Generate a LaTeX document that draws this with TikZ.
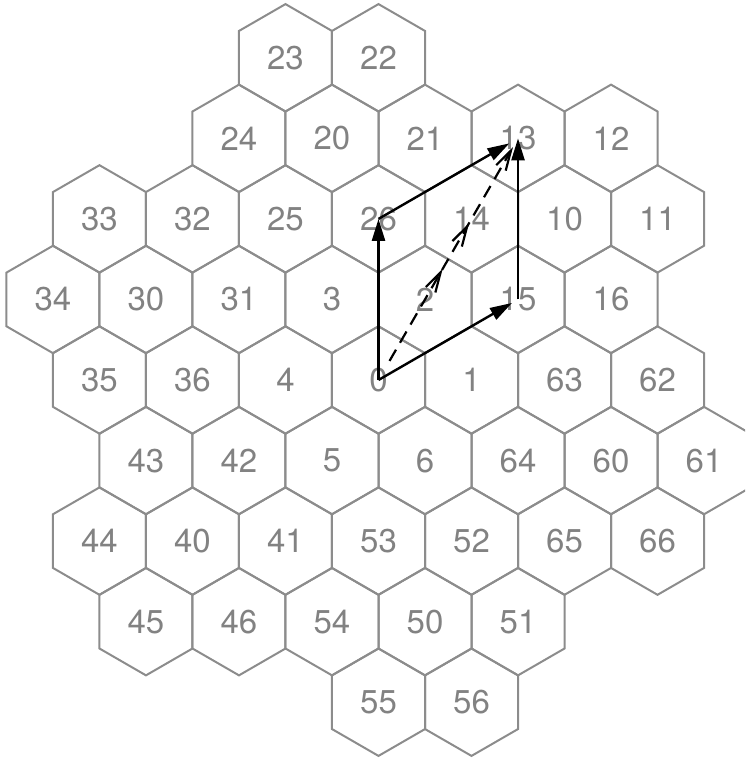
\documentclass[tikz,border=0pt]{standalone}
\usepackage{fontspec}
\setmainfont{TeX Gyre Heros}
\usetikzlibrary{shapes.geometric,arrows.meta,decorations.markings}
\definecolor{cellgray}{RGB}{140,140,140}
\definecolor{labgray}{RGB}{130,130,130}
\tikzset{cell/.style={draw=cellgray,line width=2pt,regular polygon,regular polygon sides=6,shape border rotate=30,minimum size=107.4pt,inner sep=0pt,text=labgray,font=\fontsize{33}{36}\selectfont},
 vec/.style={line width=2.4pt,-{Triangle[length=22pt,width=13pt]}},
 barb/.tip={Straight Barb[length=20pt,width=11pt]},
 sumvec/.style={line width=2.2pt,dash pattern=on 13pt off 8pt,shorten <=22pt,shorten >=10pt,-barb,
  postaction={decorate},decoration={markings,mark=at position .46 with {\arrow{barb}},mark=at position .65 with {\arrow{barb}}}}}

\begin{document}
\begin{tikzpicture}[x=93.01pt,y=80.55pt]
\clip(-4.0695,-4.6927) rectangle (3.9405,4.7176);
\node[cell](c23) at(-1,4){23};\node[cell](c22) at(0,4){22};
\node[cell](c24) at(-1.5,3){24};\node[cell](c20) at(-.5,3){20};\node[cell](c21) at(.5,3){21};
\node[cell](c13) at(1.5,3){13};\node[cell](c12) at(2.5,3){12};
\node[cell](c33) at(-3,2){33};\node[cell](c32) at(-2,2){32};\node[cell](c25) at(-1,2){25};
\node[cell](c26) at(0,2){26};\node[cell](c14) at(1,2){14};\node[cell](c10) at(2,2){10};\node[cell](c11) at(3,2){11};
\node[cell](c34) at(-3.5,1){34};\node[cell](c30) at(-2.5,1){30};\node[cell](c31) at(-1.5,1){31};
\node[cell](c3) at(-.5,1){3};\node[cell](c2) at(.5,1){2};\node[cell](c15) at(1.5,1){15};\node[cell](c16) at(2.5,1){16};
\node[cell](c35) at(-3,0){35};\node[cell](c36) at(-2,0){36};\node[cell](c4) at(-1,0){4};
\node[cell](c0) at(0,0){0};\node[cell](c1) at(1,0){1};\node[cell](c63) at(2,0){63};\node[cell](c62) at(3,0){62};
\node[cell](c43) at(-2.5,-1){43};\node[cell](c42) at(-1.5,-1){42};\node[cell](c5) at(-.5,-1){5};
\node[cell](c6) at(.5,-1){6};\node[cell](c64) at(1.5,-1){64};\node[cell](c60) at(2.5,-1){60};\node[cell](c61) at(3.5,-1){61};
\node[cell](c44) at(-3,-2){44};\node[cell](c40) at(-2,-2){40};\node[cell](c41) at(-1,-2){41};
\node[cell](c53) at(0,-2){53};\node[cell](c52) at(1,-2){52};\node[cell](c65) at(2,-2){65};\node[cell](c66) at(3,-2){66};
\node[cell](c45) at(-2.5,-3){45};\node[cell](c46) at(-1.5,-3){46};\node[cell](c54) at(-.5,-3){54};
\node[cell](c50) at(.5,-3){50};\node[cell](c51) at(1.5,-3){51};
\node[cell](c55) at(0,-4){55};\node[cell](c56) at(1,-4){56};
\draw[vec](c0.center)--(c26.center);
\draw[vec,shorten >=7pt](c0.center)--(c15.center);
\draw[vec,shorten >=10pt](c26.center)--(c13.center);
\draw[vec](c15.center)--(c13.center);
\draw[sumvec](c0.center)--(c13.center);
\end{tikzpicture}
\end{document}
